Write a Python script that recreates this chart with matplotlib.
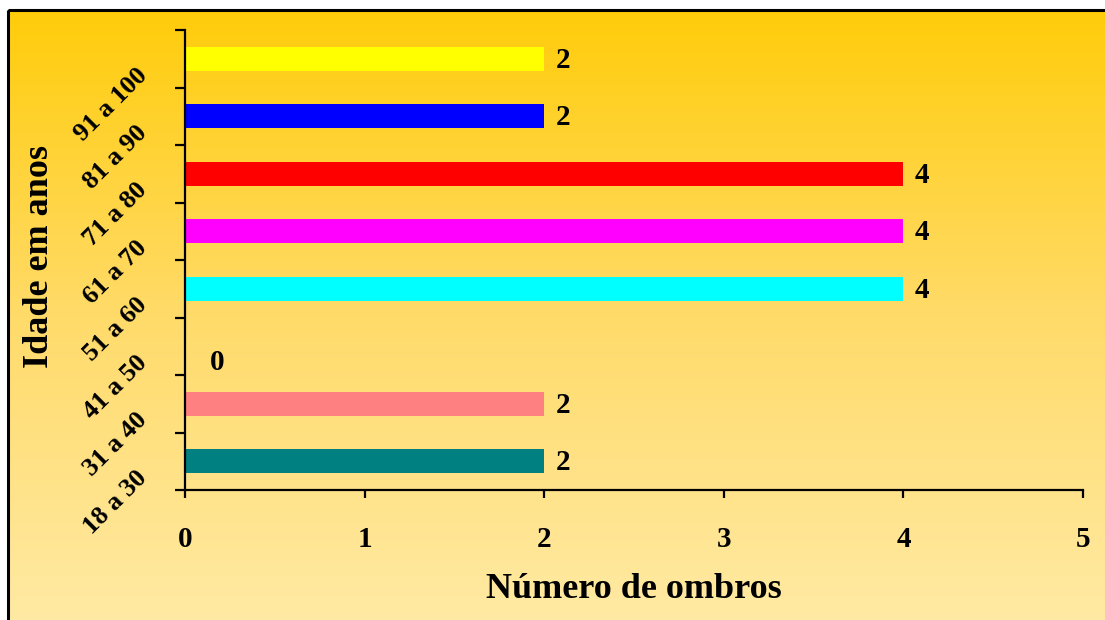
import numpy as np
import matplotlib.pyplot as plt
from matplotlib.patches import Rectangle
from matplotlib.colors import LinearSegmentedColormap
from matplotlib.transforms import ScaledTranslation

plt.rcParams['font.family'] = ['Liberation Serif', 'DejaVu Serif']
plt.rcParams['font.weight'] = 'bold'

faixas = ['18 a 30', '31 a 40', '41 a 50', '51 a 60',
          '61 a 70', '71 a 80', '81 a 90', '91 a 100']
ombros = [2, 2, 0, 4, 4, 4, 2, 2]
cores = ['#008080', '#FF8080', '#9999FF', '#00FFFF',
         '#FF00FF', '#FF0000', '#0000FF', '#FFFF00']
x_ticks = [0, 1, 2, 3, 4, 5]

W, H = 1105, 620
fig = plt.figure(figsize=(W / 100, H / 100), dpi=100)

# background: vertical gradient inside a black frame
bg = fig.add_axes([0, 0, 1, 1])
bg.set_xlim(0, W)
bg.set_ylim(H, 0)
bg.axis('off')
grad = LinearSegmentedColormap.from_list('fundo', ['#FFCC0A', '#FFDB6A', '#FFEAA4'])
g = np.linspace(0, 1, 256).reshape(-1, 1)
bg.imshow(g, cmap=grad, extent=[8, W + 5, H + 5, 10], aspect='auto')
bg.add_patch(Rectangle((8, 10), W, H, fill=False, edgecolor='black', lw=2.2))

ax = fig.add_axes([185 / W, 1 - 490 / H, (1083 - 185) / W, (490 - 30) / H])
ax.patch.set_alpha(0)

y = np.arange(len(faixas))
ax.barh(y, ombros, height=0.42, color=cores)

for yi, v in zip(y, ombros):
    dx, dy = (18, -12) if v == 0 else (8, -1)
    ax.annotate(str(v), (v, yi), xytext=(dx, dy), textcoords='offset points',
                ha='left', va='center', fontsize=21, fontweight='bold')

ax.set_xlim(0, 5)
ax.set_ylim(-0.5, len(faixas) - 0.5)
ax.set_xticks(x_ticks)
ax.set_xticklabels([str(t) for t in x_ticks], fontsize=21, fontweight='bold')
ax.tick_params(axis='x', length=6, width=1.6, pad=20)

# tick marks between categories, labels on the category centres
ax.set_yticks(np.arange(-0.5, len(faixas), 1.0))
ax.set_yticklabels([])
ax.set_yticks(y, minor=True)
ax.set_yticklabels(faixas, minor=True, rotation=45, ha='right', va='center',
                   rotation_mode='anchor', fontsize=19, fontweight='bold')
ax.tick_params(axis='y', which='major', length=7, width=1.6)
ax.tick_params(axis='y', which='minor', length=0, pad=30)
shift = ScaledTranslation(0, -0.13, fig.dpi_scale_trans)
for lab in ax.get_yticklabels(minor=True):
    lab.set_transform(lab.get_transform() + shift)

for s in ['top', 'right']:
    ax.spines[s].set_visible(False)
for s in ['left', 'bottom']:
    ax.spines[s].set_linewidth(1.6)

ax.set_xlabel('Número de ombros', fontsize=26, fontweight='bold', labelpad=14)
fig.text(40 / W, 1 - 257 / H, 'Idade em anos', rotation=90, ha='center', va='center',
         fontsize=26, fontweight='bold')

fig.savefig('out.png', dpi=100)
